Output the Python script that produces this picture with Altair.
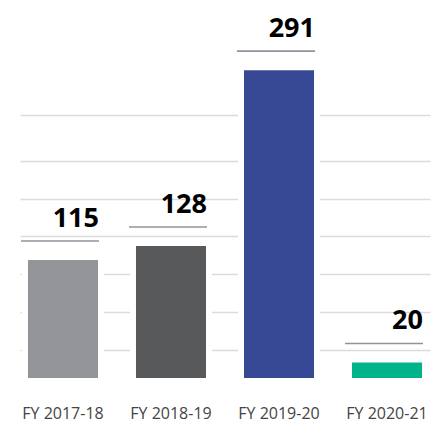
import altair as alt
import pandas as pd

# Fiscal years and their values
years = ["FY 2017-18", "FY 2018-19", "FY 2019-20", "FY 2020-21"]
values = [115, 128, 291, 20]
bar_colors = ["#939598", "#58595b", "#374995", "#00b38a"]

# Light horizontal guide lines (in value units)
grid_values = [29, 64, 99, 134, 169, 204, 247]

df = pd.DataFrame({"year": years, "value": values})

x_enc = alt.X(
    "year:N",
    sort=years,
    scale=alt.Scale(paddingInner=0.296, paddingOuter=0.046),
    axis=alt.Axis(
        title=None,
        labelAngle=0,
        ticks=False,
        domain=False,
        labelFont="Open Sans",
        labelFontSize=16,
        labelColor="#444444",
        labelPadding=24,
    ),
)

y_scale = alt.Scale(domain=[0, 344], nice=False, zero=True)
y_axis = alt.Axis(
    title=None,
    values=grid_values,
    grid=True,
    gridColor="#dcdcdc",
    gridWidth=1.5,
    labels=False,
    ticks=False,
    domain=False,
)
y_enc = alt.Y("value:Q", scale=y_scale, axis=y_axis)

bars = alt.Chart(df).mark_bar(stroke="white", strokeWidth=6).encode(
    x=x_enc,
    y=y_enc,
    color=alt.Color("year:N", sort=years,
                    scale=alt.Scale(domain=years, range=bar_colors),
                    legend=None),
)

# Short rule above each bar under the value label
rules = alt.Chart(df).mark_tick(
    orient="horizontal", size=78, thickness=1.6, color="#5b6770",
    xOffset=-3, yOffset=-16,
).encode(x=x_enc, y=y_enc)

labels = alt.Chart(df).mark_text(
    align="right", baseline="alphabetic", dx=36, dy=-30,
    font="Open Sans", fontSize=27, fontWeight="bold", color="#000000",
).encode(x=x_enc, y=y_enc, text=alt.Text("value:Q"))

chart = (
    alt.layer(bars, rules, labels)
    .properties(
        width=410,
        height=371,
        padding={"left": 20, "top": 10, "right": 2, "bottom": 42},
        autosize=alt.AutoSizeParams(type="none"),
        background="white",
    )
    .configure_view(stroke=None)
)

chart.save("out.html", embed_options={"renderer": "svg", "actions": False})
